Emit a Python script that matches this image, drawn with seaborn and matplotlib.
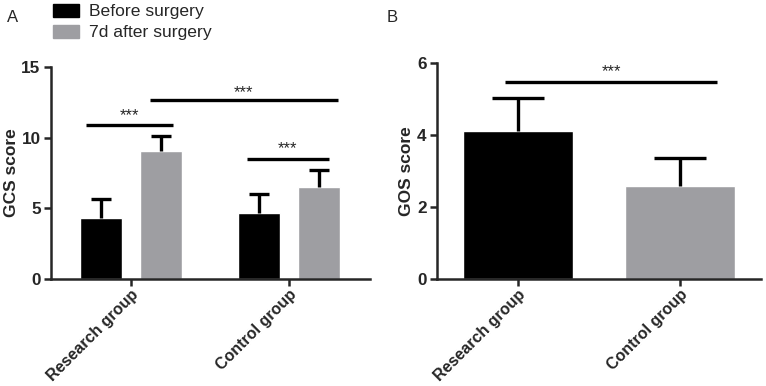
import matplotlib
matplotlib.use("Agg")
import matplotlib.pyplot as plt
import seaborn as sns
import pandas as pd
from matplotlib.patches import Patch

sns.set_style("ticks")
plt.rcParams['font.family'] = ['Liberation Sans', 'DejaVu Sans']

groups = ["Research group", "Control group"]
timepoints = ["Before surgery", "7d after surgery"]
gcs_before = [4.3, 4.65]
gcs_before_sd = [1.35, 1.35]
gcs_after = [9.1, 6.55]
gcs_after_sd = [1.05, 1.15]
gos_mean = [4.12, 2.57]
gos_sd = [0.9, 0.78]

BLACK = "#000000"
GRAY = "#9e9ea2"

df_a = pd.DataFrame({
    "group": groups * 2,
    "time": [timepoints[0]] * 2 + [timepoints[1]] * 2,
    "score": gcs_before + gcs_after,
    "sd": gcs_before_sd + gcs_after_sd,
})
df_b = pd.DataFrame({"group": groups, "score": gos_mean, "sd": gos_sd})

fig = plt.figure(figsize=(7.66, 3.86), dpi=100)
axA = fig.add_axes([0.0666, 0.277, 0.4164, 0.549])
axB = fig.add_axes([0.5705, 0.277, 0.423, 0.560])


def upper_err(ax, xs, ys, errs, capsize):
    eb = ax.errorbar(xs, ys, yerr=[[0] * len(xs), list(errs)], fmt="none",
                     ecolor="black", elinewidth=2.4, capsize=capsize,
                     capthick=2.4, zorder=1)
    caps = eb[1]
    if len(caps) == 2:
        caps[0].set_visible(False)


# Panel A
sns.barplot(data=df_a, x="group", y="score", hue="time", order=groups,
            hue_order=timepoints, palette=[BLACK, GRAY], width=0.75, gap=0.29,
            errorbar=None, ax=axA, legend=False, saturation=1)
for cont, t in zip(axA.containers, timepoints):
    sub = df_a[df_a["time"] == t].set_index("group").loc[groups]
    xs = [p.get_x() + p.get_width() / 2 for p in cont.patches]
    upper_err(axA, xs, sub["score"].values, sub["sd"].values, 7)
axA.set_ylim(0, 15)
axA.set_xlim(-0.506, 0.513 + 1)
axA.set_yticks([0, 5, 10, 15])
axA.set_ylabel("GCS score", fontsize=12.5, fontweight="bold", labelpad=2)
axA.set_xlabel("")


def sig(ax, x0, x1, y, ys, fs=12):
    ax.plot([x0, x1], [y, y], color="black", lw=2.4, clip_on=False, solid_capstyle="butt")
    ax.text((x0 + x1) / 2, ys, "***", ha="center", va="center", fontsize=fs, clip_on=False)


sig(axA, -0.285, 0.266, 10.9, 11.55)
sig(axA, 0.12, 1.31, 12.7, 13.2)
sig(axA, 0.734, 1.253, 8.5, 9.2)

# Panel B
sns.barplot(data=df_b, x="group", y="score", hue="group", order=groups,
            palette=[BLACK, GRAY], width=0.68, errorbar=None, ax=axB,
            legend=False, saturation=1)
for cont, (m, s) in zip(axB.containers, zip(gos_mean, gos_sd)):
    xs = [p.get_x() + p.get_width() / 2 for p in cont.patches]
    upper_err(axB, xs, [m], [s], 19)
axB.set_ylim(0, 6)
axB.set_xlim(-0.5, 1.5)
axB.set_yticks([0, 2, 4, 6])
axB.set_ylabel("GOS score", fontsize=12.5, fontweight="bold", labelpad=2)
axB.set_xlabel("")
sig(axB, -0.08, 1.23, 5.47, 5.75)

for ax in (axA, axB):
    sns.despine(ax=ax)
    for sp in ("left", "bottom"):
        ax.spines[sp].set_linewidth(1.8)
    ax.tick_params(axis="both", width=1.8, length=5, labelsize=12.3)
    ax.tick_params(axis="y", pad=2.5)
    ax.tick_params(axis="x", pad=0.5)
    for lab in ax.get_yticklabels():
        lab.set_fontweight("bold")
    ax.set_xticks(range(len(groups)))
    ax.set_xticklabels(groups, rotation=45, ha="right", rotation_mode="anchor",
                       fontweight="bold", fontsize=11.5)

# Legend
handles = [Patch(facecolor=BLACK, edgecolor=BLACK), Patch(facecolor=GRAY, edgecolor=GRAY)]
fig.legend(handles, timepoints, loc="upper left", bbox_to_anchor=(0.064, 1.0),
           frameon=False, fontsize=12.6, handlelength=1.5, handleheight=0.8,
           handletextpad=0.57, labelspacing=0.3, borderaxespad=0, borderpad=0.2)

fig.text(0.009, 0.975, "A", fontsize=12, va="top")
fig.text(0.505, 0.975, "B", fontsize=12, va="top")

fig.savefig("out.png", dpi=100, facecolor="white")
